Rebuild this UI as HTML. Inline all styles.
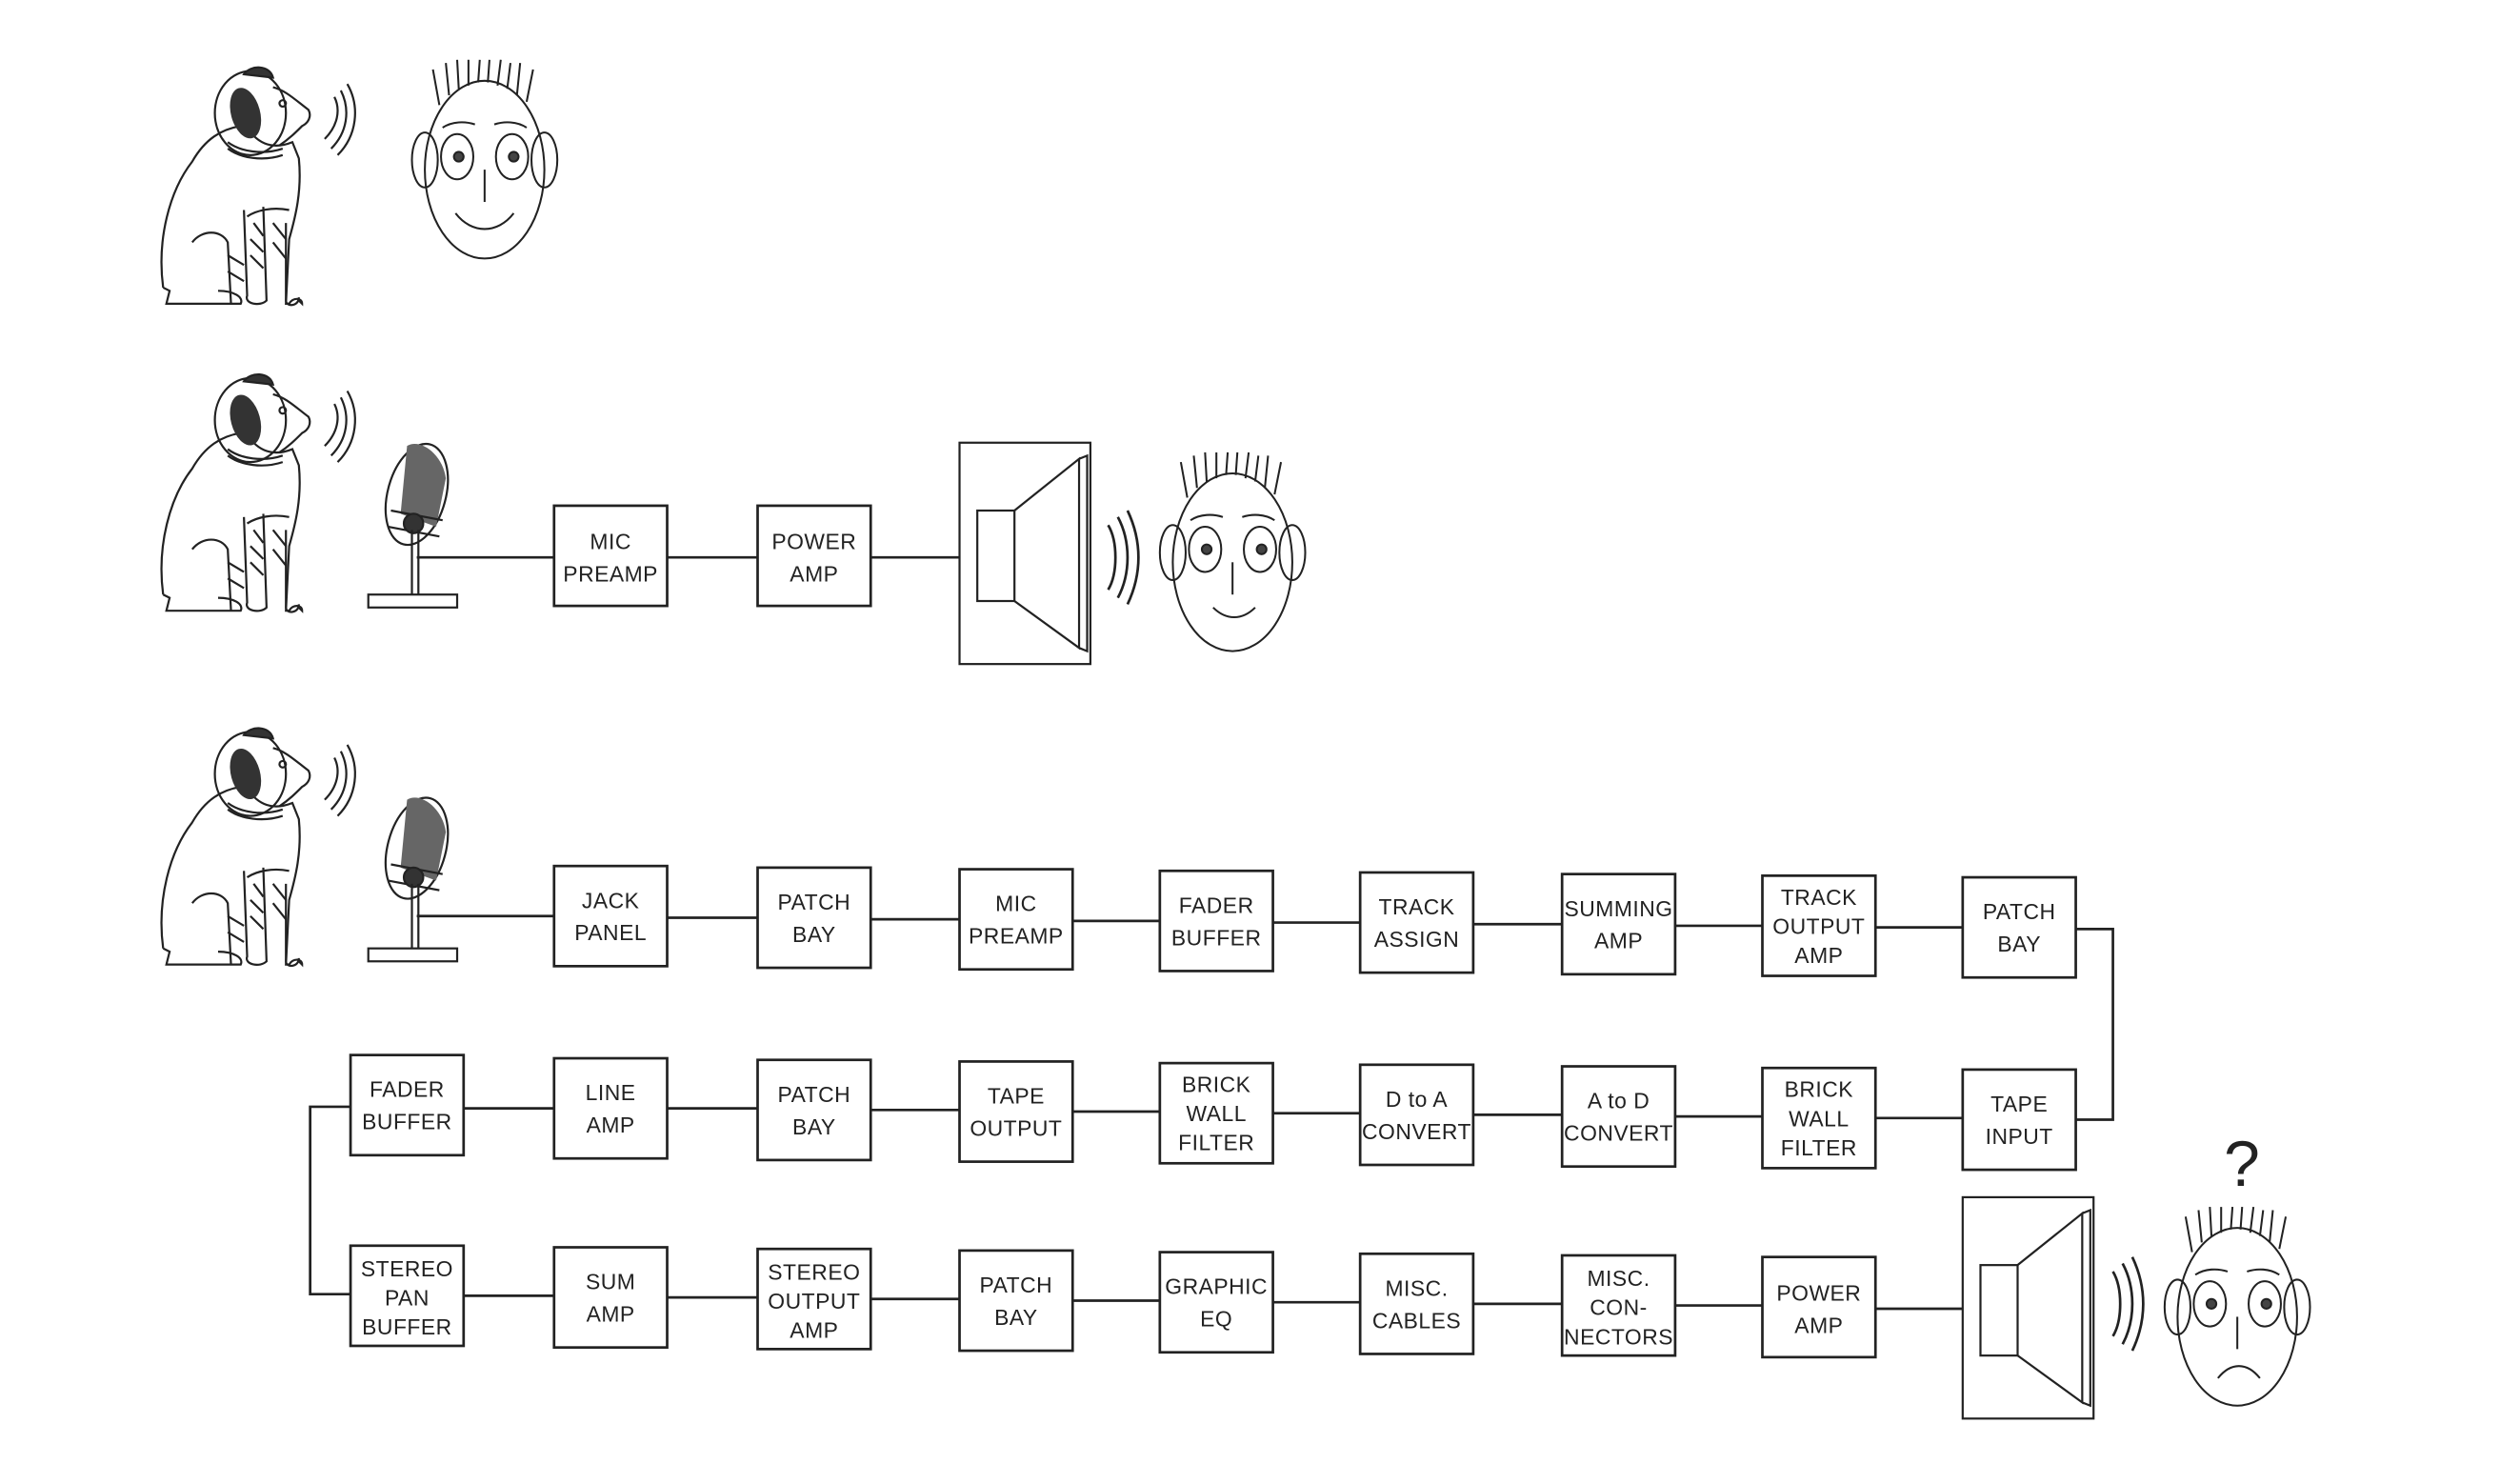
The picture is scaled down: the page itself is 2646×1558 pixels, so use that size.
<!DOCTYPE html>
<html><head><meta charset="utf-8"><style>
html,body{margin:0;padding:0;background:#fff;width:2646px;height:1558px;overflow:hidden}
svg{display:block}
text{font-family:"Liberation Sans",sans-serif;font-size:13.5px;fill:#222;text-anchor:middle;letter-spacing:0.3px}
</style></head><body>
<svg width="2646" height="1558" viewBox="0 0 1560 918.5" preserveAspectRatio="none" xmlns="http://www.w3.org/2000/svg">
<defs>
<g id="dog" fill="none" stroke="#222" stroke-width="1.3">
  <path d="M4,140 C0,110 8,80 22,62 C30,48 40,42 52,40 L60,46 C66,52 74,54 84,50 L88,60 C90,80 86,96 82,110 L80,150 L82,150 C84,146 90,146 90,150 L88,148"/>
  <path d="M4,140 L8,142 L6,150 L52,150 C54,146 48,142 38,142"/>
  <path d="M22,112 C28,104 40,104 44,112 L46,150"/>
  <path d="M54,92 L56,145 C54,150 64,152 68,148 L66,90"/>
  <path d="M80,100 L80,148 C80,152 88,152 88,146"/>
  <path d="M56,96 C62,92 72,90 82,92" />
  <path d="M60,100 L66,108 M58,110 L66,118 M58,120 L66,128 M72,100 L80,110 M72,112 L80,122 M44,120 L54,126 M44,130 L54,136"/>
  <ellipse cx="58" cy="32" rx="22" ry="26"/>
  <path d="M72,16 C80,18 86,24 94,30 C96,34 94,38 90,40 C86,44 82,48 76,52"/>
  <path d="M44,50 C52,56 66,58 78,54 M44,54 C52,60 66,62 78,58"/>
  <ellipse cx="55" cy="32" rx="9" ry="16" fill="#333" stroke="none" transform="rotate(-15 55 32)"/>
  <path d="M54,8 C58,2 70,2 72,10 Z" fill="#333"/>
  <circle cx="78" cy="26" r="2"/>
  <path d="M104,48 C112,40 114,30 110,22 M108,54 C118,44 120,30 114,18 M112,58 C124,46 126,28 118,14"/>
</g>
<g id="mic" fill="none" stroke="#222" stroke-width="1.3">
  <ellipse cx="30" cy="30" rx="18" ry="32" transform="rotate(15 30 30)" fill="#fff"/>
  <path d="M22,0 C30,-5 44,5 46,20 L40,50 L18,42 Z" fill="#666" stroke="none" transform="translate(2,0)"/>
  <path d="M14,40 L46,46 M12,50 L44,56"/>
  <circle cx="28" cy="48" r="6" fill="#333"/>
  <path d="M27,52 L27,92 M31,52 L31,92"/>
  <rect x="0" y="92" width="55" height="8"/>
</g>
<g id="face" fill="none" stroke="#222" stroke-width="1.2">
  <ellipse cx="0" cy="0" rx="37" ry="55"/>
  <path d="M-28,-40 L-32,-62 M-22,-46 L-24,-66 M-16,-50 L-17,-68 M-10,-52 L-10,-68 M-4,-54 L-3,-68 M2,-54 L3,-68 M8,-52 L10,-68 M14,-50 L16,-66 M20,-46 L22,-66 M26,-42 L30,-62"/>
  <ellipse cx="-37" cy="-6" rx="8" ry="17"/><ellipse cx="37" cy="-6" rx="8" ry="17"/>
  <ellipse cx="-17" cy="-8" rx="10" ry="14"/><ellipse cx="17" cy="-8" rx="10" ry="14"/>
  <circle cx="-16" cy="-8" r="3" fill="#444"/><circle cx="18" cy="-8" r="3" fill="#444"/>
  <path d="M-26,-26 C-20,-30 -12,-30 -6,-28 M6,-28 C12,-30 20,-30 26,-26"/>
  <path d="M0,0 L0,20"/>
</g>
<g id="spk" fill="none" stroke="#222" stroke-width="1.3">
  <rect x="0" y="0" width="81" height="137"/>
  <rect x="11" y="42" width="23" height="56"/>
  <path d="M34,42 L74,10 L74,127 L34,98 M74,10 L79,8 L79,129 L74,127"/>
</g>
</defs>

<use href="#dog" x="97" y="38"/>
<g transform="translate(300,105)"><use href="#face"/><path d="M-18,27 C-8,40 8,40 18,27" fill="none" stroke="#222" stroke-width="1.2"/></g>

<use href="#dog" x="97" y="228"/>
<use href="#mic" x="228" y="276"/>
<g fill="none" stroke="#222" stroke-width="1.6">
<path d="M258,345 L343,345 M413,345 L469,345 M539,345 L594,345"/>
<rect x="343" y="313" width="70" height="62"/><rect x="469" y="313" width="70" height="62"/>
<path d="M686,325 C692,335 692,355 686,365 M692,320 C700,335 700,355 692,370 M698,316 C707,335 707,355 698,374"/>
</g>
<use href="#spk" x="594" y="274"/>
<g transform="translate(763,348)"><use href="#face"/><path d="M-12,28 C-4,36 6,36 14,28" fill="none" stroke="#222" stroke-width="1.2"/></g>
<text x="378" y="340">MIC</text><text x="378" y="360">PREAMP</text>
<text x="504" y="340">POWER</text><text x="504" y="360">AMP</text>

<use href="#dog" x="97" y="447"/>
<use href="#mic" x="228" y="495"/>
<g fill="none" stroke="#222" stroke-width="1.6">
<path d="M258,567 L343,567 M413,568 L469,568 M539,569 L594,569 M664,570 L718,570 M788,571 L842,571 M912,572 L967,572 M1037,573 L1091,573 M1161,574 L1215,574 M1285,575 L1308,575 L1308,693 L1285,693"/>
<rect x="343" y="536" width="70" height="62"/><rect x="469" y="537" width="70" height="62"/><rect x="594" y="538" width="70" height="62"/><rect x="718" y="539" width="70" height="62"/><rect x="842" y="540" width="70" height="62"/><rect x="967" y="541" width="70" height="62"/><rect x="1091" y="542" width="70" height="62"/><rect x="1215" y="543" width="70" height="62"/>

<path d="M1215,692 L1161,692 M1091,691 L1037,691 M967,690 L912,690 M842,689 L788,689 M718,688 L664,688 M594,687 L539,687 M469,686 L413,686 M343,686 L287,686 M217,685 L192,685 L192,801 L217,801"/>
<rect x="217" y="653" width="70" height="62"/><rect x="343" y="655" width="70" height="62"/><rect x="469" y="656" width="70" height="62"/><rect x="594" y="657" width="70" height="62"/><rect x="718" y="658" width="70" height="62"/><rect x="842" y="659" width="70" height="62"/><rect x="967" y="660" width="70" height="62"/><rect x="1091" y="661" width="70" height="62"/><rect x="1215" y="662" width="70" height="62"/>

<path d="M287,802 L343,802 M413,803 L469,803 M539,804 L594,804 M664,805 L718,805 M788,806 L842,806 M912,807 L967,807 M1037,808 L1091,808 M1161,810 L1215,810"/>
<rect x="217" y="771" width="70" height="62"/><rect x="343" y="772" width="70" height="62"/><rect x="469" y="773" width="70" height="62"/><rect x="594" y="774" width="70" height="62"/><rect x="718" y="775" width="70" height="62"/><rect x="842" y="776" width="70" height="62"/><rect x="967" y="777" width="70" height="62"/><rect x="1091" y="778" width="70" height="62"/>
<path d="M1308,787 C1314,797 1314,817 1308,827 M1314,782 C1322,797 1322,817 1314,832 M1320,778 C1329,797 1329,817 1320,836"/>
</g>
<use href="#spk" x="1215" y="741"/>
<g transform="translate(1385,815)"><use href="#face"/><path d="M-12,38 C-4,28 6,28 14,38" fill="none" stroke="#222" stroke-width="1.2"/></g>
<text x="1388" y="734" style="font-size:40px">?</text>

<text x="378" y="562">JACK</text><text x="378" y="582">PANEL</text>
<text x="504" y="563">PATCH</text><text x="504" y="583">BAY</text>
<text x="629" y="564">MIC</text><text x="629" y="584">PREAMP</text>
<text x="753" y="565">FADER</text><text x="753" y="585">BUFFER</text>
<text x="877" y="566">TRACK</text><text x="877" y="586">ASSIGN</text>
<text x="1002" y="567">SUMMING</text><text x="1002" y="587">AMP</text>
<text x="1126" y="560">TRACK</text><text x="1126" y="578">OUTPUT</text><text x="1126" y="596">AMP</text>
<text x="1250" y="569">PATCH</text><text x="1250" y="589">BAY</text>

<text x="252" y="679">FADER</text><text x="252" y="699">BUFFER</text>
<text x="378" y="681">LINE</text><text x="378" y="701">AMP</text>
<text x="504" y="682">PATCH</text><text x="504" y="702">BAY</text>
<text x="629" y="683">TAPE</text><text x="629" y="703">OUTPUT</text>
<text x="753" y="676">BRICK</text><text x="753" y="694">WALL</text><text x="753" y="712">FILTER</text>
<text x="877" y="685">D to A</text><text x="877" y="705">CONVERT</text>
<text x="1002" y="686">A to D</text><text x="1002" y="706">CONVERT</text>
<text x="1126" y="679">BRICK</text><text x="1126" y="697">WALL</text><text x="1126" y="715">FILTER</text>
<text x="1250" y="688">TAPE</text><text x="1250" y="708">INPUT</text>

<text x="252" y="790">STEREO</text><text x="252" y="808">PAN</text><text x="252" y="826">BUFFER</text>
<text x="378" y="798">SUM</text><text x="378" y="818">AMP</text>
<text x="504" y="792">STEREO</text><text x="504" y="810">OUTPUT</text><text x="504" y="828">AMP</text>
<text x="629" y="800">PATCH</text><text x="629" y="820">BAY</text>
<text x="753" y="801">GRAPHIC</text><text x="753" y="821">EQ</text>
<text x="877" y="802">MISC.</text><text x="877" y="822">CABLES</text>
<text x="1002" y="796">MISC.</text><text x="1002" y="814">CON-</text><text x="1002" y="832">NECTORS</text>
<text x="1126" y="805">POWER</text><text x="1126" y="825">AMP</text>
</svg>
</body></html>
